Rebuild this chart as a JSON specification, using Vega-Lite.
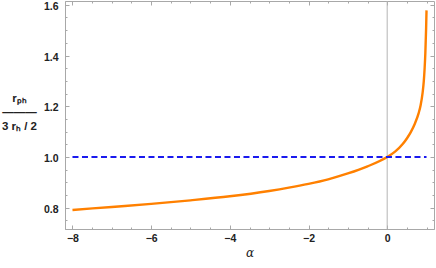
{
  "$schema": "https://vega.github.io/schema/vega-lite/v6.json",
  "width": 369,
  "height": 228,
  "autosize": "none",
  "padding": {"left": 65, "top": 1, "right": 2, "bottom": 39},
  "background": "white",
  "datasets": {
    "curve": [
      {"a": -8, "y": 0.791}, {"a": -7, "y": 0.803}, {"a": -6, "y": 0.815},
      {"a": -5, "y": 0.829}, {"a": -4, "y": 0.845}, {"a": -3, "y": 0.866},
      {"a": -2.5, "y": 0.879}, {"a": -2, "y": 0.894}, {"a": -1.5, "y": 0.912},
      {"a": -1, "y": 0.935}, {"a": -0.5, "y": 0.963}, {"a": 0, "y": 1.0},
      {"a": 0.2, "y": 1.021}, {"a": 0.4, "y": 1.052}, {"a": 0.5, "y": 1.073},
      {"a": 0.6, "y": 1.098}, {"a": 0.7, "y": 1.13}, {"a": 0.8, "y": 1.173},
      {"a": 0.85, "y": 1.204}, {"a": 0.9, "y": 1.253}, {"a": 0.93, "y": 1.298},
      {"a": 0.95, "y": 1.345}, {"a": 0.97, "y": 1.41}, {"a": 0.98, "y": 1.46},
      {"a": 0.99, "y": 1.51}, {"a": 0.995, "y": 1.545}, {"a": 1.0, "y": 1.578}
    ],
    "hline": [{"a": -8, "y": 1.0}, {"a": 1, "y": 1.0}],
    "vline": [{"a": 0}]
  },
  "config": {
    "view": {"stroke": "#a8a8a8", "strokeWidth": 1},
    "axis": {
      "grid": false,
      "domainColor": "#a8a8a8",
      "tickColor": "#a8a8a8",
      "labelFont": "Liberation Sans",
      "labelFontWeight": "bold",
      "labelFontSize": 10.5,
      "labelColor": "#222222",
      "titleFont": "Liberation Sans",
      "titleColor": "#222222"
    }
  },
  "layer": [
    {
      "data": {"name": "vline"},
      "mark": {"type": "rule", "color": "#b4b4b4", "strokeWidth": 1},
      "encoding": {
        "x": {"field": "a", "type": "quantitative", "axis": null,
              "scale": {"domain": [-8.19, 1.19], "nice": false, "zero": false}}
      }
    },
    {
      "data": {"name": "curve"},
      "mark": {"type": "line", "color": "#ff8000", "strokeWidth": 2.4, "interpolate": "monotone", "clip": true},
      "encoding": {
        "x": {"field": "a", "type": "quantitative",
              "scale": {"domain": [-8.19, 1.19], "nice": false, "zero": false},
              "axis": {"orient": "bottom", "values": [-8, -6, -4, -2, 0], "format": "d",
                       "tickSize": -4, "labelPadding": 8, "title": "α",
                       "titleFont": "DejaVu Serif", "titleFontStyle": "italic", "titleFontWeight": "normal",
                       "titleFontSize": 12, "titlePadding": 4}},
        "y": {"field": "y", "type": "quantitative",
              "scale": {"domain": [0.716, 1.615], "nice": false, "zero": false},
              "axis": {"orient": "left", "values": [0.8, 1.0, 1.2, 1.4, 1.6], "format": ".1f",
                       "tickSize": -4, "labelPadding": 11, "labelOffset": 1.5,
                       "title": ["rₚₕ", "———", "3 rₕ / 2"],
                       "titleAngle": 0, "titleAlign": "center", "titleBaseline": "middle",
                       "titleX": -46, "titleY": 97, "titleFontSize": 11.5, "titleFontWeight": "bold",
                       "titleLineHeight": 14}}
      }
    },
    {
      "data": {"name": "hline"},
      "mark": {"type": "line", "color": "#1a1aee", "strokeWidth": 2, "strokeDash": [6, 3.5]},
      "encoding": {
        "x": {"field": "a", "type": "quantitative",
              "axis": {"orient": "top", "values": [-8, -6, -4, -2, 0], "labels": false, "title": null,
                       "tickSize": -4, "domain": false}},
        "y": {"field": "y", "type": "quantitative",
              "axis": {"orient": "right", "values": [0.8, 1.0, 1.2, 1.4, 1.6], "labels": false, "title": null,
                       "tickSize": -4, "domain": false}}
      }
    },
    {
      "data": {"name": "curve"},
      "mark": {"type": "line", "opacity": 0},
      "encoding": {
        "x": {"field": "a", "type": "quantitative",
              "axis": {"orient": "bottom", "values": [-8, -7.5, -7, -6.5, -6, -5.5, -5, -4.5, -4, -3.5, -3, -2.5, -2, -1.5, -1, -0.5, 0, 0.5, 1],
                       "labels": false, "title": null, "tickSize": -2, "domain": false}},
        "y": {"field": "y", "type": "quantitative",
              "axis": {"orient": "left", "values": [0.75, 0.8, 0.85, 0.9, 0.95, 1.0, 1.05, 1.1, 1.15, 1.2, 1.25, 1.3, 1.35, 1.4, 1.45, 1.5, 1.55, 1.6],
                       "labels": false, "title": null, "tickSize": -2, "domain": false}}
      }
    },
    {
      "data": {"name": "hline"},
      "mark": {"type": "line", "opacity": 0},
      "encoding": {
        "x": {"field": "a", "type": "quantitative",
              "axis": {"orient": "top", "values": [-8, -7.5, -7, -6.5, -6, -5.5, -5, -4.5, -4, -3.5, -3, -2.5, -2, -1.5, -1, -0.5, 0, 0.5, 1],
                       "labels": false, "title": null, "tickSize": -2, "domain": false}},
        "y": {"field": "y", "type": "quantitative",
              "axis": {"orient": "right", "values": [0.75, 0.8, 0.85, 0.9, 0.95, 1.0, 1.05, 1.1, 1.15, 1.2, 1.25, 1.3, 1.35, 1.4, 1.45, 1.5, 1.55, 1.6],
                       "labels": false, "title": null, "tickSize": -2, "domain": false}}
      }
    }
  ],
  "resolve": {"axis": {"x": "independent", "y": "independent"}}
}
